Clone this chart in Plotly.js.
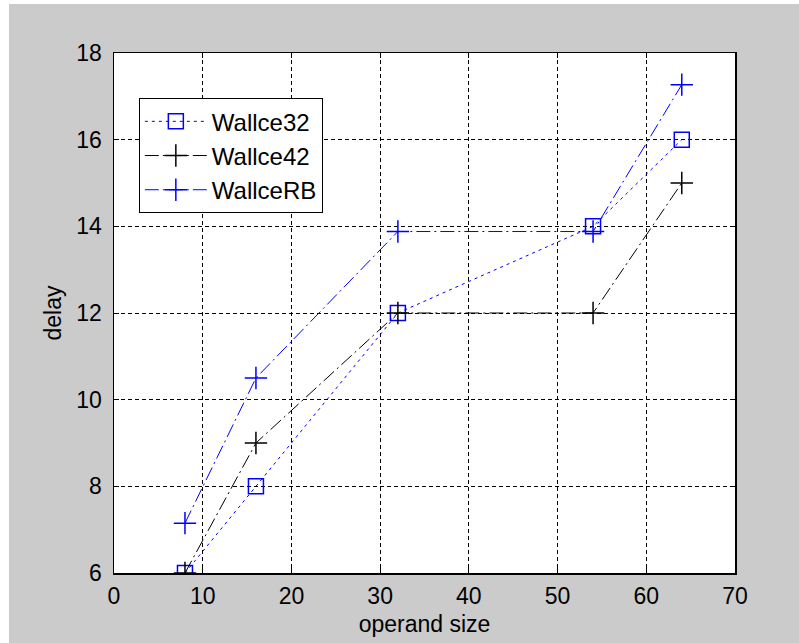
<!DOCTYPE html>
<html>
<head>
<meta charset="utf-8">
<script src="https://cdn.plot.ly/plotly-3.0.1.min.js"></script>
<style>html,body{margin:0;padding:0;background:#fff;}</style>
</head>
<body>
<div id="chart" style="width:799px;height:643px;"></div>
<script>
const operandSize = [8, 16, 32, 54, 64];
const wallce32 = [6, 8, 12, 14, 16];
const wallce42 = [6, 9, 12, 12, 15];
const wallceRB = [7.15, 10.5, 13.88, 13.88, 17.27];
const seriesNames = ["Wallce32", "Wallce42", "WallceRB"];
const xTicks = [0, 10, 20, 30, 40, 50, 60, 70];
const yTicks = [6, 8, 10, 12, 14, 16, 18];

const FONT = "Liberation Sans, Arial, sans-serif";
const FS = 23;
const traces = [
  {x: operandSize, y: wallce32, name: seriesNames[0], mode: "lines+markers",
   line: {color: "#0000ff", width: 1, dash: "3px,4px"},
   marker: {symbol: "square-open", size: 15, color: "#0000ff", line: {width: 1.5}}},
  {x: operandSize, y: wallce42, name: seriesNames[1], mode: "lines+markers",
   line: {color: "#000000", width: 1, dash: "14px,4px,2px,4px"},
   marker: {symbol: "cross-thin-open", size: 16, color: "#000000", line: {width: 1.5, color: "#000000"}}},
  {x: operandSize, y: wallceRB, name: seriesNames[2], mode: "lines+markers",
   line: {color: "#0000ff", width: 1, dash: "14px,4px,2px,4px"},
   marker: {symbol: "cross-thin-open", size: 16, color: "#0000ff", line: {width: 1.5, color: "#0000ff"}}}
];

const axisCommon = {
  showline: true, linecolor: "#000", linewidth: 1.5, mirror: "ticks",
  ticks: "inside", ticklen: 5, tickcolor: "#000",
  showgrid: true, gridcolor: "#000", gridwidth: 1, griddash: "4px,3px",
  zeroline: false, tickfont: {family: FONT, size: FS, color: "#000"}
};

const layout = {
  width: 799, height: 643,
  margin: {l: 114, r: 64, t: 53, b: 70},
  paper_bgcolor: "#cbcbcb", plot_bgcolor: "#ffffff",
  showlegend: true,
  xaxis: Object.assign({}, axisCommon, {
    range: [0, 70], tickvals: xTicks, ticktext: xTicks.map(String), ticklabelstandoff: 2,
    title: {text: "operand size", font: {family: FONT, size: FS, color: "#000"}, standoff: 8}
  }),
  yaxis: Object.assign({}, axisCommon, {
    range: [6, 18], tickvals: yTicks, ticktext: yTicks.map(String), ticklabelstandoff: 6,
    title: {text: "delay", font: {family: FONT, size: FS, color: "#000"}, standoff: 8}
  }),
  legend: {
    x: 0.04, y: 0.913, xanchor: "left", yanchor: "top",
    bgcolor: "#fff", bordercolor: "#000", borderwidth: 1,
    font: {family: FONT, size: 24, color: "#000"},
    itemwidth: 62
  },
  shapes: [
    {type: "rect", xref: "paper", yref: "paper", x0: -0.3, x1: (9 - 114) / 621, y0: -0.3, y1: 1.3,
     fillcolor: "#fff", line: {width: 0}},
    {type: "rect", xref: "paper", yref: "paper", x0: -0.3, x1: 1.3, y0: (573 - 4) / 520, y1: 1.3,
     fillcolor: "#fff", line: {width: 0}}
  ]
};

Plotly.newPlot("chart", traces, layout, {displayModeBar: false, staticPlot: true});
</script>
</body>
</html>
